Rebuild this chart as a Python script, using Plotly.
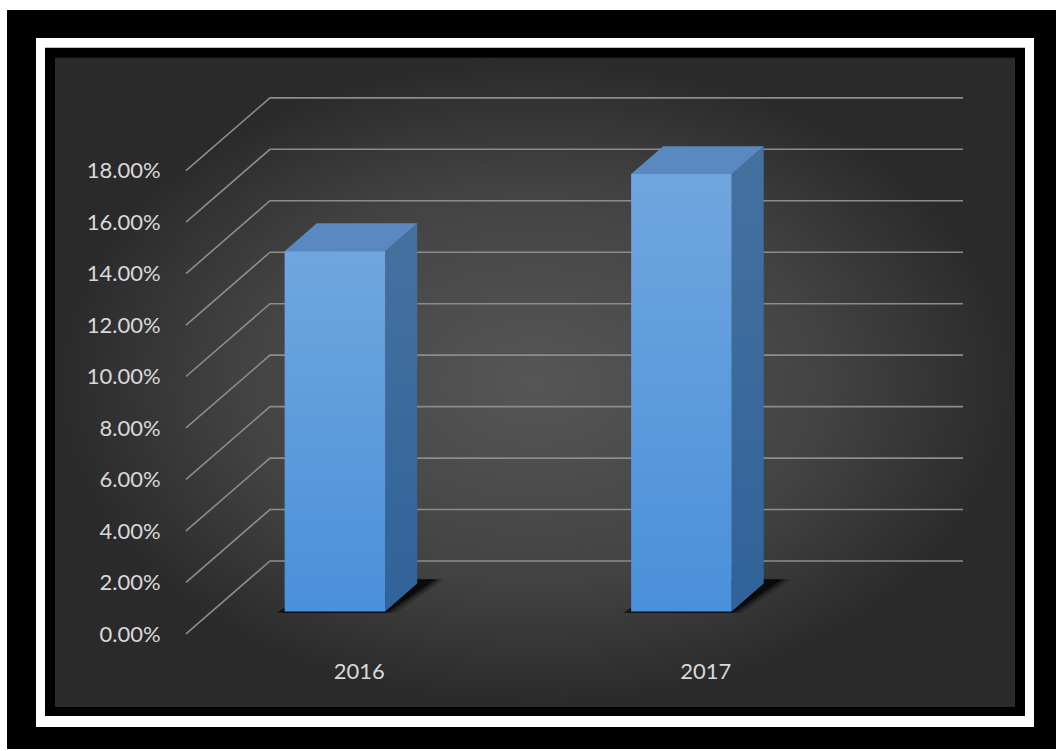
import plotly.graph_objects as go

# ---------------- data ----------------
categories = ["2016", "2017"]
values = [0.14, 0.17]
tick_values = [0, 0.02, 0.04, 0.06, 0.08, 0.10, 0.12, 0.14, 0.16, 0.18]

# ---------------- geometry / style ----------------
W, H = 1056, 751
PX0, PXU = 186.0, 346.5      # px of x=0 (front floor), px per category unit
PY0, PYU = 635.5, 2580.0     # px of value 0 (front), px per unit fraction
DX = 84.0 / PXU              # oblique depth offset (x units) for full depth
DY = 73.0 / PYU              # oblique depth offset (y units) for full depth
BAR_LEFT, BAR_W = 0.21, 0.29
D0, D1 = 0.308, 0.69         # bar depth extent
XR = [-0.02, 2.26]
YR = [-0.004, 0.211]

dom_x = [(PX0 + XR[0] * PXU) / W, (PX0 + XR[1] * PXU) / W]
dom_y = [(H - (PY0 - YR[0] * PYU)) / H, (H - (PY0 - YR[1] * PYU)) / H]

fig = go.Figure()

# background gradient panel (decoration axes in pixel units)
fig.add_trace(go.Scatter(
    x=[55, 1015, 1015, 55, 55], y=[58, 58, 709, 709, 58],
    mode="lines", line=dict(width=0), fill="toself",
    fillgradient=dict(type="radial",
                      colorscale=[[0, "#565656"], [0.6, "#434343"], [1, "#2a2a2a"]]),
    hoverinfo="skip", showlegend=False, xaxis="x", yaxis="y"))


def proj(x, y, d):
    return x + d * DX, y + d * DY


# gridlines: diagonal side wall + back wall
gx, gy = [], []
for v in tick_values:
    a = proj(0, v, 0)
    b = proj(0, v, 1)
    c = proj(len(categories), v, 1)
    gx += [a[0], b[0], c[0], None]
    gy += [a[1], b[1], c[1], None]
fig.add_trace(go.Scatter(x=gx, y=gy, mode="lines",
                         line=dict(color="#8c8c8c", width=1.6),
                         hoverinfo="skip", showlegend=False,
                         xaxis="x2", yaxis="y2"))

for i, (cat, v) in enumerate(zip(categories, values)):
    xl = i + BAR_LEFT
    xr = xl + BAR_W
    # shadow (footprint on floor, softened)
    for sx, op in [(0.035, 0.22), (0.02, 0.4), (0.008, 0.6)]:
        pts = [proj(xl - 0.025 + sx, 0, D0 - 0.02), proj(xr + sx, 0, D0 - 0.02),
               proj(xr + sx + 0.03, 0, D1 + 0.06), proj(xl + sx, 0, D1 + 0.06)]
        fig.add_trace(go.Scatter(
            x=[p[0] for p in pts] + [pts[0][0]], y=[p[1] for p in pts] + [pts[0][1]],
            mode="lines", line=dict(width=0), fill="toself",
            fillcolor=f"rgba(0,0,0,{op})", hoverinfo="skip", showlegend=False,
            xaxis="x2", yaxis="y2"))
    # side face
    pts = [proj(xr, 0, D0), proj(xr, 0, D1), proj(xr, v, D1), proj(xr, v, D0)]
    fig.add_trace(go.Scatter(
        x=[p[0] for p in pts] + [pts[0][0]], y=[p[1] for p in pts] + [pts[0][1]],
        mode="lines", line=dict(width=0), fill="toself",
        fillgradient=dict(type="vertical", colorscale=[[0, "#30639a"], [1, "#45719f"]]),
        hoverinfo="skip", showlegend=False, xaxis="x2", yaxis="y2"))
    # top face
    pts = [proj(xl, v, D0), proj(xr, v, D0), proj(xr, v, D1), proj(xl, v, D1)]
    fig.add_trace(go.Scatter(
        x=[p[0] for p in pts] + [pts[0][0]], y=[p[1] for p in pts] + [pts[0][1]],
        mode="lines", line=dict(width=0), fill="toself", fillcolor="#5a88c0",
        hoverinfo="skip", showlegend=False, xaxis="x2", yaxis="y2"))
    # front face
    pts = [proj(xl, 0, D0), proj(xr, 0, D0), proj(xr, v, D0), proj(xl, v, D0)]
    fig.add_trace(go.Scatter(
        x=[p[0] for p in pts] + [pts[0][0]], y=[p[1] for p in pts] + [pts[0][1]],
        mode="lines", line=dict(width=0), fill="toself",
        fillgradient=dict(type="vertical", colorscale=[[0, "#4a90da"], [1, "#70a6df"]]),
        hoverinfo="text", text=f"{cat}: {v:.2%}", showlegend=False,
        xaxis="x2", yaxis="y2"))

font_fam = "Lato, 'Open Sans', sans-serif"
fig.update_layout(
    width=W, height=H, margin=dict(l=0, r=0, t=0, b=0),
    paper_bgcolor="white", plot_bgcolor="rgba(0,0,0,0)",
    showlegend=False,
    xaxis=dict(domain=[0, 1], range=[0, W], visible=False, fixedrange=True),
    yaxis=dict(domain=[0, 1], range=[H, 0], visible=False, fixedrange=True),
    xaxis2=dict(domain=dom_x, range=XR, anchor="y2",
                tickvals=[i + 0.5 for i in range(len(categories))], ticktext=categories,
                showgrid=False, zeroline=False, showline=False,
                ticks="outside", ticklen=7, tickcolor="rgba(0,0,0,0)",
                tickfont=dict(family=font_fam, size=22, color="#d9d9d9")),
    yaxis2=dict(domain=dom_y, range=YR, anchor="x2",
                tickvals=tick_values, tickformat=".2%",
                showgrid=False, zeroline=False, showline=False,
                ticks="outside", ticklen=13, tickcolor="rgba(0,0,0,0)",
                tickfont=dict(family=font_fam, size=22, color="#d9d9d9")),
    shapes=[
        dict(type="rect", xref="x", yref="y", x0=7, y0=10, x1=1056, y1=751,
             fillcolor="black", line=dict(width=0), layer="below"),
        dict(type="rect", xref="x", yref="y", x0=36, y0=38, x1=1034, y1=729,
             fillcolor="white", line=dict(width=0), layer="below"),
        dict(type="rect", xref="x", yref="y", x0=45, y0=48, x1=1025, y1=718,
             fillcolor="black", line=dict(width=0), layer="below"),
    ],
)

fig.write_html("out.html")
